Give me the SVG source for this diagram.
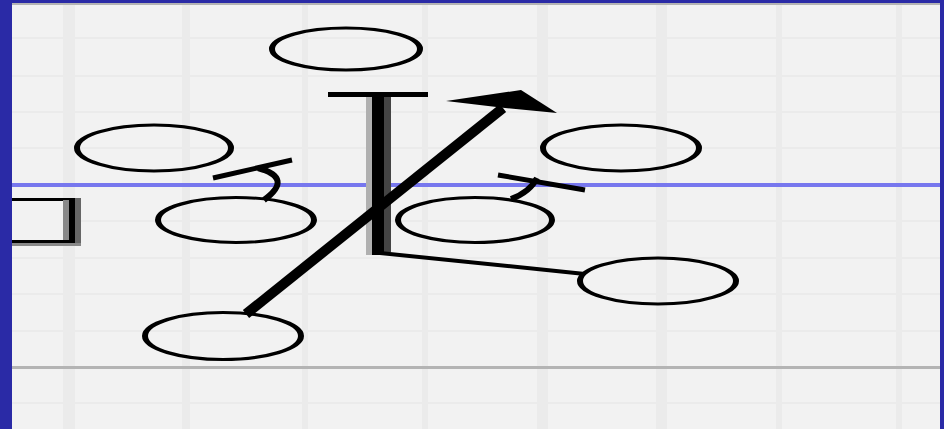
<svg xmlns="http://www.w3.org/2000/svg" width="944" height="429" viewBox="0 0 944 429">
<style>
.node ellipse{fill:none;stroke:#000;stroke-width:3}
.grid{fill:#ebebeb}
.ln{stroke:#000;fill:none;stroke-linecap:butt}
</style>
<rect x="0" y="0" width="944" height="429" fill="#2a2aa6"/>
<rect x="12" y="3" width="928" height="426" fill="#f2f2f2"/>
<rect x="12" y="3" width="928" height="2" fill="#b4b4b4"/>
<g id="grid">
<rect class="grid" x="63" y="5" width="12" height="424"/>
<rect class="grid" x="182" y="5" width="8" height="424"/>
<rect class="grid" x="302" y="5" width="6" height="424"/>
<rect class="grid" x="422" y="5" width="6" height="424"/>
<rect class="grid" x="537" y="5" width="11" height="424"/>
<rect class="grid" x="656" y="5" width="11" height="424"/>
<rect class="grid" x="776" y="5" width="6" height="424"/>
<rect class="grid" x="896" y="5" width="6" height="424"/>
<rect class="grid" x="12" y="37" width="928" height="2"/>
<rect class="grid" x="12" y="75" width="928" height="2"/>
<rect class="grid" x="12" y="111" width="928" height="2"/>
<rect class="grid" x="12" y="147" width="928" height="2"/>
<rect class="grid" x="12" y="220" width="928" height="2"/>
<rect class="grid" x="12" y="257" width="928" height="2"/>
<rect class="grid" x="12" y="293" width="928" height="2"/>
<rect class="grid" x="12" y="330" width="928" height="2"/>
<rect class="grid" x="12" y="402" width="928" height="2"/>
</g>
<rect x="12" y="183" width="928" height="4" fill="#7777ee"/>
<rect x="12" y="366" width="928" height="3" fill="#b4b4b4"/>
<g id="box">
<rect x="12" y="201" width="57" height="39" fill="#f2f2f2"/>
<rect x="12" y="198" width="63" height="3" fill="#000"/>
<rect x="63" y="200" width="6" height="40" fill="#888"/>
<rect x="69" y="198" width="6" height="45" fill="#000"/>
<rect x="75" y="198" width="6" height="48" fill="#666"/>
<rect x="12" y="240" width="63" height="3" fill="#000"/>
<rect x="12" y="243" width="69" height="3" fill="#888"/>
</g>
<g id="connectors">
<rect x="328" y="92" width="100" height="5" fill="#000"/>
<rect x="366" y="97" width="6" height="158" fill="#b0b0b0"/>
<rect x="384" y="97" width="7" height="155" fill="#444"/>
<rect x="372" y="92" width="12" height="163" fill="#000"/>
<path class="ln" d="M380,253 L585,274" stroke-width="4"/>
<path class="ln" d="M246,314 L503,108" stroke-width="10"/>
<polygon points="446,101 521,90 557,113 505,108" fill="#000"/>
<path class="ln" d="M213,178 L292,160" stroke-width="5"/>
<path class="ln" d="M258,168 Q294,178 264,200" stroke-width="6"/>
<path class="ln" d="M498,175 L585,190" stroke-width="5"/>
<path class="ln" d="M537,178 Q530,192 511,199" stroke-width="6"/>
</g>
<g id="n-top" class="node"><ellipse cx="0" cy="0" rx="37" ry="21" transform="translate(346,49) scale(2 1)"/></g>
<g id="n-left" class="node"><ellipse cx="0" cy="0" rx="38.5" ry="23" transform="translate(154,148) scale(2 1)"/></g>
<g id="n-right" class="node"><ellipse cx="0" cy="0" rx="39" ry="23" transform="translate(621,148) scale(2 1)"/></g>
<g id="n-midleft" class="node"><ellipse cx="0" cy="0" rx="39" ry="22.5" transform="translate(236,220) scale(2 1)"/></g>
<g id="n-midright" class="node"><ellipse cx="0" cy="0" rx="38.5" ry="22.5" transform="translate(475,220) scale(2 1)"/></g>
<g id="n-lowright" class="node"><ellipse cx="0" cy="0" rx="39" ry="23" transform="translate(658,281) scale(2 1)"/></g>
<g id="n-bottom" class="node"><ellipse cx="0" cy="0" rx="39" ry="23.5" transform="translate(223,336) scale(2 1)"/></g>
</svg>
